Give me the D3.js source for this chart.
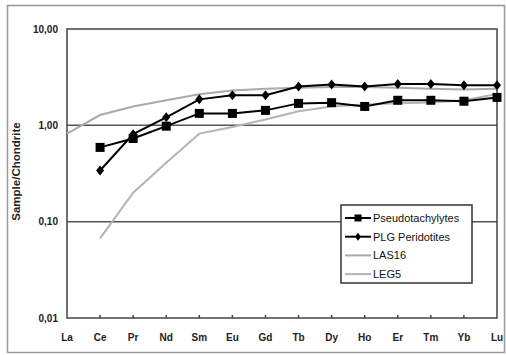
<!DOCTYPE html>
<html>
<head>
<meta charset="utf-8">
<script src="https://cdn.jsdelivr.net/npm/d3@7"></script>
<style>
  body { margin: 0; background: #fff; }
  text { font-family: "Liberation Sans", Arial, sans-serif; }
</style>
</head>
<body>
<svg id="chart" width="506" height="355"></svg>
<script>
// REE categories
var elements = ["La", "Ce", "Pr", "Nd", "Sm", "Eu", "Gd", "Tb", "Dy", "Ho", "Er", "Tm", "Yb", "Lu"];
var yTicks = [0.01, 0.1, 1, 10];
var yTickLabels = ["0,01", "0,10", "1,00", "10,00"];

// series values (null = no data)
var pseudotachylytes = [null, 0.59, 0.73, 0.98, 1.33, 1.33, 1.43, 1.69, 1.72, 1.57, 1.82, 1.82, 1.78, 1.95];
var plgPeridotites   = [null, 0.34, 0.81, 1.21, 1.86, 2.05, 2.05, 2.53, 2.66, 2.53, 2.68, 2.68, 2.6, 2.6];
var las16            = [0.82, 1.28, 1.57, 1.82, 2.1, 2.3, 2.4, 2.45, 2.5, 2.5, 2.45, 2.4, 2.36, 2.4];
var leg5             = [null, 0.067, 0.2, 0.41, 0.82, 0.96, 1.15, 1.4, 1.57, 1.65, 1.7, 1.73, 1.82, 2.12];

var series = [
  {name: "Pseudotachylytes", values: pseudotachylytes, color: "#000", width: 2, marker: "square"},
  {name: "PLG Peridotites", values: plgPeridotites, color: "#000", width: 2, marker: "diamond"},
  {name: "LAS16", values: las16, color: "#aaa", width: 2, marker: null},
  {name: "LEG5", values: leg5, color: "#b4b4b4", width: 2, marker: null}
];

var svg = d3.select("#chart");

// plot area edges (window.top is reserved, so use other names)
var plotL = 67, plotR = 497, plotT = 29, plotB = 318;

// outer frame
svg.append("rect")
  .attr("x", 7.5).attr("y", 5.5)
  .attr("width", 497).attr("height", 347)
  .attr("fill", "none").attr("stroke", "#999").attr("stroke-width", 1.5);

var x = d3.scalePoint().domain(elements).range([plotL, plotR]).padding(0);
var y = d3.scaleLog().domain([0.01, 10]).range([plotB, plotT]);

// grid lines
svg.selectAll(".grid")
  .data([0.1, 1])
  .enter().append("line")
  .attr("x1", plotL).attr("x2", plotR)
  .attr("y1", function(d){ return y(d); })
  .attr("y2", function(d){ return y(d); })
  .attr("stroke", "#555").attr("stroke-width", 1.5);

// plot border
svg.append("rect")
  .attr("x", plotL).attr("y", plotT)
  .attr("width", plotR - plotL).attr("height", plotB - plotT)
  .attr("fill", "none").attr("stroke", "#444").attr("stroke-width", 1.5);

// x ticks (inside) and labels
svg.selectAll(".xtick")
  .data(elements.slice(1, -1))
  .enter().append("line")
  .attr("x1", function(d){ return x(d); })
  .attr("x2", function(d){ return x(d); })
  .attr("y1", plotB).attr("y2", plotB - 3)
  .attr("stroke", "#444").attr("stroke-width", 1.5);

svg.selectAll(".xlabel")
  .data(elements)
  .enter().append("text")
  .attr("x", function(d){ return x(d); })
  .attr("y", 341)
  .attr("text-anchor", "middle")
  .style("font-size", "10px").style("font-weight", "bold").style("fill", "#222")
  .text(function(d){ return d; });

// y labels
svg.selectAll(".ylabel")
  .data(yTicks)
  .enter().append("text")
  .attr("x", 58)
  .attr("y", function(d){ return y(d) + 3.5; })
  .attr("text-anchor", "end")
  .style("font-size", "10px").style("font-weight", "bold").style("fill", "#222")
  .text(function(d, i){ return yTickLabels[i]; });

svg.append("text")
  .attr("transform", "translate(20," + ((plotT + plotB) / 2 - 2) + ") rotate(-90)")
  .attr("text-anchor", "middle")
  .style("font-size", "11.5px").style("font-weight", "bold").style("fill", "#222")
  .text("Sample/Chondrite");

// lines
var line = d3.line()
  .defined(function(d){ return d.v != null; })
  .x(function(d){ return x(d.k); })
  .y(function(d){ return y(d.v); });

function toPoints(s) {
  return elements.map(function(k, i){ return {k: k, v: s.values[i]}; });
}

// draw gray lines first, then black
[series[3], series[2], series[0], series[1]].forEach(function(s){
  svg.append("path")
    .datum(toPoints(s))
    .attr("d", line)
    .attr("fill", "none")
    .attr("stroke", s.color)
    .attr("stroke-width", s.width);
});

function drawMarker(g, type, cx, cy, size) {
  if (type === "square") {
    g.append("rect")
      .attr("x", cx - size / 2).attr("y", cy - size / 2)
      .attr("width", size).attr("height", size)
      .attr("fill", "#000");
  } else if (type === "diamond") {
    var h = size / 2 + 1;
    g.append("path")
      .attr("d", "M" + cx + "," + (cy - h) + "L" + (cx + h - 1) + "," + cy + "L" + cx + "," + (cy + h) + "L" + (cx - h + 1) + "," + cy + "Z")
      .attr("fill", "#000");
  }
}

series.forEach(function(s){
  if (!s.marker) return;
  toPoints(s).forEach(function(p){
    if (p.v == null) return;
    drawMarker(svg, s.marker, x(p.k), y(p.v), s.marker === "square" ? 9 : 8);
  });
});

// legend
var lg = svg.append("g").attr("transform", "translate(341,205)");
lg.append("rect")
  .attr("width", 131).attr("height", 78)
  .attr("fill", "#fff").attr("stroke", "#333").attr("stroke-width", 1.5);

series.forEach(function(s, i){
  var yy = 13 + i * 18.7;
  lg.append("line")
    .attr("x1", 4).attr("x2", 30)
    .attr("y1", yy).attr("y2", yy)
    .attr("stroke", s.color).attr("stroke-width", s.width);
  drawMarker(lg, s.marker, 17, yy, s.marker === "square" ? 7 : 6);
  lg.append("text")
    .attr("x", 32).attr("y", yy + 4)
    .style("font-size", "11px").style("fill", "#111")
    .text(s.name);
});
</script>
</body>
</html>
